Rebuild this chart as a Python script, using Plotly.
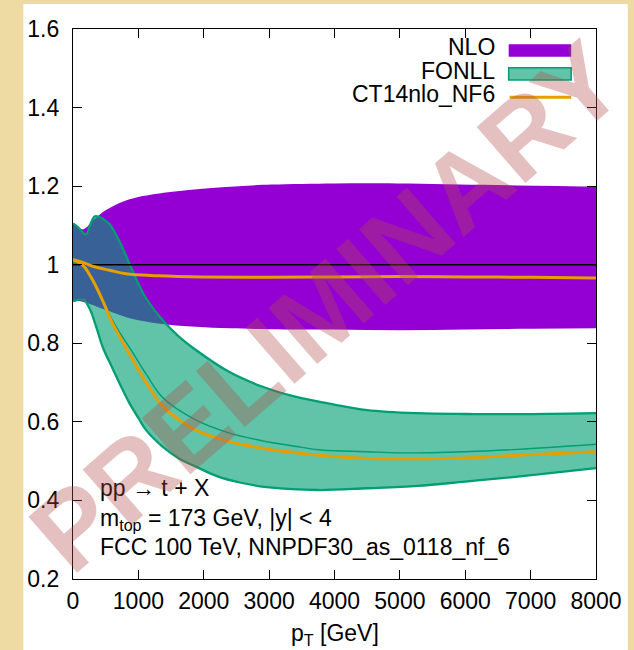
import plotly.graph_objects as go

# ---------------- data ----------------
x_ticks = [0, 1000, 2000, 3000, 4000, 5000, 6000, 7000, 8000]
x_tick_labels = ["0", "1000", "2000", "3000", "4000", "5000", "6000", "7000", "8000"]
y_ticks = [0.2, 0.4, 0.6, 0.8, 1.0, 1.2, 1.4, 1.6]
y_tick_labels = ["0.2", "0.4", "0.6", "0.8", "1", "1.2", "1.4", "1.6"]

# NLO scale band
nlo_up_x = [0, 100, 150, 200, 300, 400, 506, 759, 1012, 1518, 2024, 2530, 3036, 4000, 4964, 6482, 8000]
nlo_up_y = [1.105, 1.093, 1.090, 1.094, 1.112, 1.126, 1.139, 1.160, 1.173, 1.186, 1.194, 1.200, 1.204, 1.207, 1.207, 1.203, 1.199]
nlo_lo_x = [0, 150, 550, 865, 1370, 1880, 2400, 3000, 4000, 5000, 6000, 7000, 8000]
nlo_lo_y = [0.910, 0.906, 0.882, 0.864, 0.849, 0.842, 0.838, 0.836, 0.835, 0.833, 0.835, 0.837, 0.838]

# FONLL band
fonll_up_x = [0, 80, 200, 260, 330, 400, 550, 700, 860, 1010, 1120, 1370, 1620, 1880, 2380, 2890, 3400, 3900, 4500, 5270, 6000, 6800, 8000]
fonll_up_y = [1.105, 1.095, 1.077, 1.100, 1.123, 1.122, 1.105, 1.063, 1.004, 0.948, 0.914, 0.859, 0.817, 0.783, 0.728, 0.690, 0.664, 0.647, 0.630, 0.622, 0.620, 0.6195, 0.622]
fonll_lo_x = [0, 160, 260, 360, 460, 600, 735, 865, 1000, 1118, 1370, 1620, 1880, 2200, 2570, 3000, 3750, 4500, 5270, 6000, 6800, 8000]
fonll_lo_y = [0.907, 0.911, 0.886, 0.839, 0.788, 0.738, 0.690, 0.647, 0.610, 0.579, 0.537, 0.507, 0.486, 0.462, 0.445, 0.433, 0.4265, 0.431, 0.437, 0.448, 0.4605, 0.482]
fonll_c_x = [0, 150, 300, 450, 600, 750, 900, 1118, 1371, 1877, 2383, 2889, 3395, 3750, 4500, 5000, 6000, 6800, 8000]
fonll_c_y = [1.005, 0.999, 0.963, 0.913, 0.860, 0.818, 0.780, 0.722, 0.662, 0.605, 0.572, 0.552, 0.538, 0.529, 0.524, 0.521, 0.524, 0.530, 0.543]

# CT14nlo_NF6 ratios
ct_up_x = [0, 150, 300, 560, 810, 1300, 2000, 3000, 4000, 5000, 6000, 7000, 8000]
ct_up_y = [1.013, 1.006, 0.996, 0.986, 0.977, 0.972, 0.969, 0.968, 0.969, 0.970, 0.969, 0.968, 0.966]
ct_lo_x = [0, 150, 300, 450, 600, 750, 900, 1118, 1371, 1624, 1877, 2383, 2889, 3395, 3900, 4500, 5270, 6000, 6800, 8000]
ct_lo_y = [1.012, 0.999, 0.961, 0.910, 0.852, 0.806, 0.762, 0.700, 0.640, 0.605, 0.579, 0.550, 0.533, 0.522, 0.513, 0.507, 0.506, 0.508, 0.515, 0.524]

ref_x = [0, 8000]
ref_y = [1.0, 1.0]

# ---------------- styling ----------------
FONT = "Liberation Sans, Arial, Helvetica, sans-serif"
FS = 23
PURPLE = "#9400D3"
GREEN = "#009E73"
GREEN_FILL = "rgba(0,158,115,0.62)"
ORANGE = "#E69F00"
W, H = 634, 650
L, R, T, B = 73, 34, 29, 71
PW, PH = W - L - R, H - T - B


def px(xp):
    return (xp - L) / PW


def py(yp):
    return (H - B - yp) / PH


fig = go.Figure()

# NLO band
fig.add_trace(go.Scatter(x=nlo_lo_x, y=nlo_lo_y, mode="lines",
                         line=dict(width=0, color=PURPLE, shape="spline"),
                         showlegend=False, hoverinfo="skip"))
fig.add_trace(go.Scatter(x=nlo_up_x, y=nlo_up_y, mode="lines",
                         line=dict(width=0, color=PURPLE, shape="spline"),
                         fill="tonexty", fillcolor=PURPLE,
                         showlegend=False, hoverinfo="skip"))
# FONLL band
fig.add_trace(go.Scatter(x=fonll_lo_x, y=fonll_lo_y, mode="lines",
                         line=dict(width=2.3, color=GREEN, shape="spline"),
                         showlegend=False, hoverinfo="skip"))
fig.add_trace(go.Scatter(x=fonll_up_x, y=fonll_up_y, mode="lines",
                         line=dict(width=2.3, color=GREEN, shape="spline"),
                         fill="tonexty", fillcolor=GREEN_FILL,
                         showlegend=False, hoverinfo="skip"))
fig.add_trace(go.Scatter(x=fonll_c_x, y=fonll_c_y, mode="lines",
                         line=dict(width=1.4, color=GREEN, shape="spline"),
                         showlegend=False, hoverinfo="skip"))
# reference line at 1
fig.add_trace(go.Scatter(x=ref_x, y=ref_y, mode="lines",
                         line=dict(width=1.5, color="black"),
                         showlegend=False, hoverinfo="skip"))
# CT14 lines
fig.add_trace(go.Scatter(x=ct_up_x, y=ct_up_y, mode="lines",
                         line=dict(width=3, color=ORANGE, shape="spline"),
                         showlegend=False, hoverinfo="skip"))
fig.add_trace(go.Scatter(x=ct_lo_x, y=ct_lo_y, mode="lines",
                         line=dict(width=3, color=ORANGE, shape="spline"),
                         showlegend=False, hoverinfo="skip"))

shapes = [
    # white page
    dict(type="rect", xref="paper", yref="paper", x0=px(23), x1=px(632), y0=py(650), y1=py(4),
         fillcolor="white", line=dict(width=0), layer="below"),
    # legend samples
    dict(type="rect", xref="paper", yref="paper", x0=px(512), x1=px(575), y0=py(56.7), y1=py(44.3),
         fillcolor=PURPLE, line=dict(width=0)),
    dict(type="rect", xref="paper", yref="paper", x0=px(512), x1=px(575), y0=py(80), y1=py(67.7),
         fillcolor=GREEN_FILL, line=dict(width=1.5, color=GREEN)),
    dict(type="line", xref="paper", yref="paper", x0=px(513), x1=px(575), y0=py(97.3), y1=py(97.3),
         line=dict(width=3, color=ORANGE)),
]

ann = []
legend_items = [("NLO", 47), ("FONLL", 71), ("CT14nlo_NF6", 94)]
for txt, yc in legend_items:
    ann.append(dict(text=txt, xref="paper", yref="paper", x=px(500), y=py(yc),
                    xanchor="right", yanchor="middle", showarrow=False,
                    font=dict(family=FONT, size=FS, color="black")))

info = [("pp \u2192 t + X", 488), ("m<sub>top</sub> = 173 GeV, |y| &lt; 4", 519), ("FCC 100 TeV, NNPDF30_as_0118_nf_6", 547)]
for txt, yc in info:
    ann.append(dict(text=txt, xref="paper", yref="paper", x=px(98), y=py(yc),
                    xanchor="left", yanchor="middle", showarrow=False,
                    font=dict(family=FONT, size=FS, color="black")))

ann.append(dict(text="p<sub>T</sub> [GeV]", xref="paper", yref="paper", x=px(337), y=py(634),
                xanchor="center", yanchor="middle", showarrow=False,
                font=dict(family=FONT, size=FS, color="black")))

# watermark
ann.append(dict(text="<b>PRELIMINARY</b>", xref="paper", yref="paper", x=px(328), y=py(306),
                xanchor="center", yanchor="middle", showarrow=False, textangle=-41,
                font=dict(family=FONT, size=108, color="rgba(178,78,75,0.35)")))

axis_common = dict(ticks="inside", ticklen=9, tickwidth=1, tickcolor="black",
                   showline=True, linecolor="black", linewidth=1.2, mirror="ticks",
                   showgrid=False, zeroline=False,
                   tickfont=dict(family=FONT, size=FS, color="black"))

fig.update_layout(
    width=W, height=H, autosize=False,
    margin=dict(l=L, r=R, t=T, b=B, pad=0),
    paper_bgcolor="#EEDBA4", plot_bgcolor="white",
    showlegend=False,
    shapes=shapes, annotations=ann,
    xaxis=dict(range=[0, 8000], tickvals=x_ticks, ticktext=x_tick_labels,
               ticklabelstandoff=1, **axis_common),
    yaxis=dict(range=[0.2, 1.6], tickvals=y_ticks, ticktext=y_tick_labels,
               ticklabelstandoff=8, **axis_common),
)

fig.write_html("out.html")
